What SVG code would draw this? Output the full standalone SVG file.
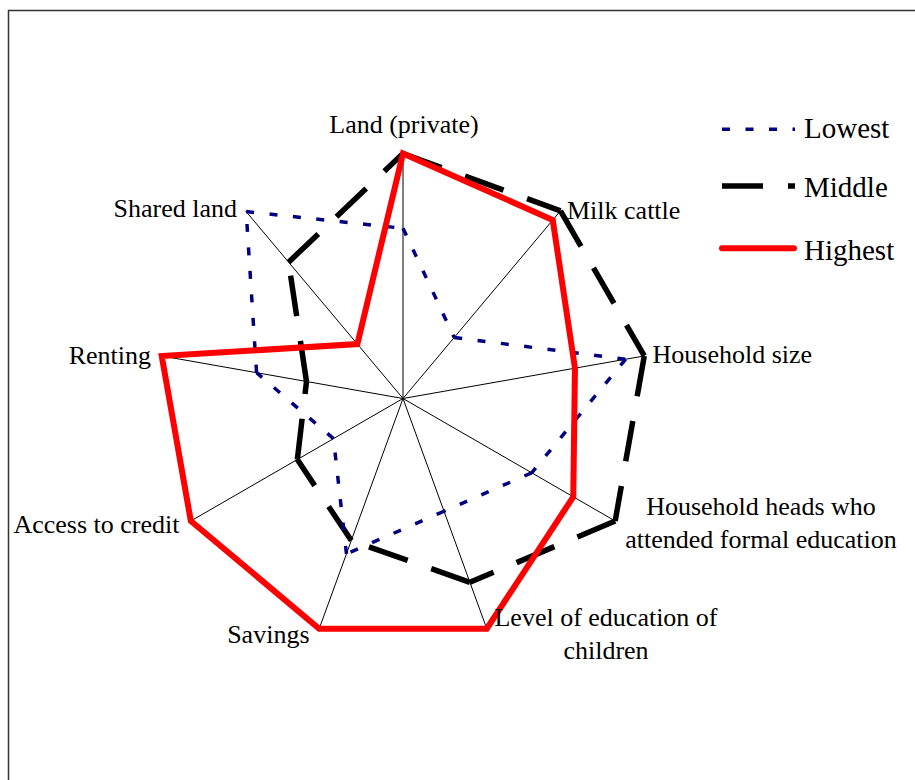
<svg xmlns="http://www.w3.org/2000/svg" width="915" height="780" viewBox="0 0 915 780">
<style>
.lbl{font-family:"Liberation Serif","Times New Roman",serif;font-size:26px;fill:#000}
.leg{font-family:"Liberation Serif","Times New Roman",serif;font-size:29px;fill:#000}
.spoke{stroke:#000;stroke-width:1;fill:none}
.low{stroke:#000080;stroke-width:3.5;fill:none;stroke-dasharray:8 15.5;stroke-linejoin:miter}
.mid{stroke:#000;stroke-width:5.5;fill:none;stroke-dasharray:41 25;stroke-linejoin:miter}
.high{stroke:#ff0000;stroke-width:6;fill:none;stroke-linejoin:miter}
</style>
<rect x="0" y="0" width="915" height="780" fill="#fff"/>
<rect x="8.5" y="10.5" width="920" height="800" fill="none" stroke="#333" stroke-width="1.5"/>
<g id="spokes">
<path class="spoke" d="M403,398.5L403,153.5M403,398.5L560.48,210.82M403,398.5L644.28,355.96M403,398.5L615.18,521M403,398.5L486.79,628.72M403,398.5L319.21,628.72M403,398.5L190.82,521M403,398.5L161.72,355.96M403,398.5L245.52,210.82"/>
</g>
<g id="series">
<path id="middle" class="mid" d="M403,153.5L560.48,210.82M560.48,210.82L644.28,355.96M644.28,355.96L615.18,521M615.18,521L469.9,582.3M469.9,582.3L351.29,540.58M351.29,540.58L297.35,459.5M297.35,459.5L306.49,381.48M306.49,381.48L288.58,262.14M288.58,262.14L403,153.5"/>
<path id="lowest" class="low" d="M403,228.3L454.23,337.45M454.23,337.45L625.57,359.26M625.57,359.26L531.69,472.8M531.69,472.8L444.04,511.26M444.04,511.26L346.46,553.83M346.46,553.83L333.46,438.65M333.46,438.65L256.56,372.68M256.56,372.68L246.16,211.59M246.16,211.59L403,228.3"/>
<path id="highest" class="high" d="M403,153.5L552.77,220.01L574.95,368.18L573.26,496.8L486.79,628.72L319.21,628.72L190.82,521L161.72,355.96L357.36,344.11Z"/>
</g>
<g id="axis-labels">
<text class="lbl" x="404" y="133" text-anchor="middle">Land (private)</text>
<text class="lbl" x="567" y="218.5">Milk cattle</text>
<text class="lbl" x="652.5" y="363">Household size</text>
<text class="lbl" x="761" y="515" text-anchor="middle">Household heads who</text>
<text class="lbl" x="761" y="548" text-anchor="middle">attended formal education</text>
<text class="lbl" x="606" y="626" text-anchor="middle">Level of education of</text>
<text class="lbl" x="606" y="659" text-anchor="middle">children</text>
<text class="lbl" x="309.5" y="643" text-anchor="end">Savings</text>
<text class="lbl" x="179.5" y="533" text-anchor="end">Access to credit</text>
<text class="lbl" x="151" y="364" text-anchor="end">Renting</text>
<text class="lbl" x="237" y="217" text-anchor="end">Shared land</text>
</g>
<g id="legend">
<g id="legend-lowest">
<line class="low" x1="722" y1="129.3" x2="795" y2="129.3"/>
<text class="leg" x="804" y="137.7">Lowest</text>
</g>
<g id="legend-middle">
<line class="mid" x1="722" y1="186" x2="795" y2="186"/>
<text class="leg" x="804" y="196.5">Middle</text>
</g>
<g id="legend-highest">
<line class="high" x1="722" y1="248.3" x2="794" y2="248.3" stroke-linecap="round"/>
<text class="leg" x="804" y="259.5">Highest</text>
</g>
</g>
</svg>
